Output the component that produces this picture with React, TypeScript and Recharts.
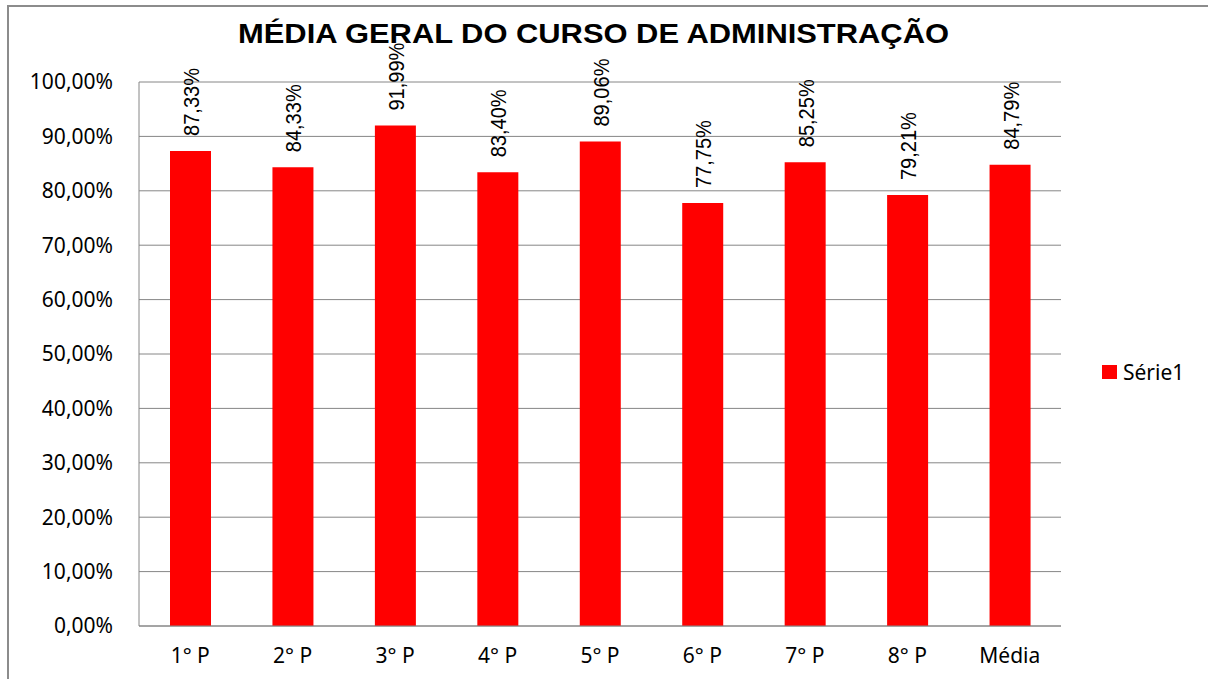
import { BarChart, Bar, XAxis, YAxis, CartesianGrid, LabelList } from 'recharts'

const periodos = ['1° P', '2° P', '3° P', '4° P', '5° P', '6° P', '7° P', '8° P', 'Média']
const medias = [0.8733, 0.8433, 0.9199, 0.834, 0.8906, 0.7775, 0.8525, 0.7921, 0.8479]
const yTicks = [0, 0.1, 0.2, 0.3, 0.4, 0.5, 0.6, 0.7, 0.8, 0.9, 1]
const serieNome = 'Série1'
const titulo = 'MÉDIA GERAL DO CURSO DE ADMINISTRAÇÃO'

const data = periodos.map((p, i) => ({ periodo: p, valor: medias[i] }))

const pct = (v: number) => (v * 100).toFixed(2).replace('.', ',') + '%'

const GRID = '#868686'
const FONT = '"Noto Sans", sans-serif'

function DataLabel(props: any) {
  const { x, y, width, value } = props
  const cx = Number(x) + Number(width) / 2 + 1
  const cy = Number(y) - 15
  return (
    <text
      x={cx}
      y={cy}
      transform={`rotate(-90, ${cx}, ${cy})`}
      textAnchor="start"
      dominantBaseline="central"
      textLength={68}
      lengthAdjust="spacingAndGlyphs"
      fontFamily='"Liberation Sans", Arial, sans-serif'
      fontSize={22}
      fill="#000"
    >
      {pct(value)}
    </text>
  )
}

export default function App() {
  return (
    <div style={{ position: 'absolute', left: 0, top: 0, width: 1208, height: 679, background: '#fff', overflow: 'hidden' }}>
      <div
        style={{
          position: 'absolute',
          left: 7,
          top: 5,
          width: 1300,
          height: 800,
          borderLeft: '2px solid #8c8c8c',
          borderTop: '2px solid #8c8c8c',
          boxSizing: 'border-box',
        }}
      />
      <svg width={1208} height={60} style={{ position: 'absolute', left: 0, top: 0 }}>
        <text
          x={238}
          y={43}
          textLength={711}
          lengthAdjust="spacingAndGlyphs"
          fontFamily='"Liberation Sans", Arial, sans-serif'
          fontWeight="bold"
          fontSize={28}
          fill="#000"
        >
          {titulo}
        </text>
      </svg>
      <div style={{ position: 'absolute', left: 0, top: 0 }}>
        <BarChart width={1208} height={679} data={data} margin={{ top: 82, right: 147, bottom: 13, left: 0 }}>
          <CartesianGrid vertical={false} stroke={GRID} strokeWidth={1} />
          <XAxis
            dataKey="periodo"
            height={40}
            tickSize={0}
            tickMargin={22}
            axisLine={{ stroke: GRID }}
            tick={{ fill: '#000', fontSize: 21, fontFamily: FONT }}
            interval={0}
          />
          <YAxis
            width={139}
            domain={[0, 1]}
            ticks={yTicks}
            tickFormatter={pct}
            tickSize={0}
            tickMargin={26}
            axisLine={{ stroke: GRID }}
            tick={{ fill: '#000', fontSize: 21, fontFamily: FONT }}
            interval={0}
          />
          <Bar dataKey="valor" fill="#ff0000" barSize={41} isAnimationActive={false}>
            <LabelList dataKey="valor" content={DataLabel} />
          </Bar>
        </BarChart>
      </div>
      <div
        style={{
          position: 'absolute',
          left: 1102,
          top: 358,
          display: 'flex',
          alignItems: 'center',
          fontFamily: FONT,
          fontSize: 21,
          color: '#000',
        }}
      >
        <span style={{ display: 'inline-block', width: 15, height: 14, background: '#ff0000', marginRight: 6 }} />
        <span>{serieNome}</span>
      </div>
    </div>
  )
}
